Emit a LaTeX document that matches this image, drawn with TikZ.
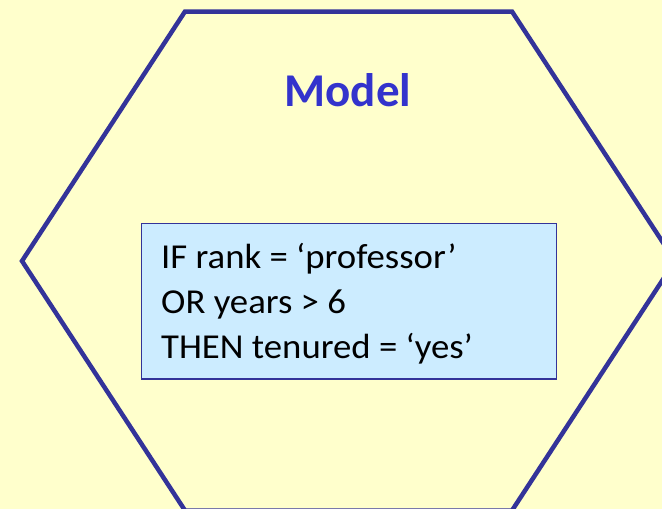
\documentclass[tikz,border=0pt]{standalone}
\usepackage{fontspec}
\setmainfont{Carlito}
\definecolor{bgyellow}{HTML}{FFFFCC}
\definecolor{hexblue}{HTML}{333399}
\definecolor{titleblue}{HTML}{3333CC}
\definecolor{boxblue}{HTML}{CCECFF}
\newcommand{\widetext}[1]{\scalebox{1.05}[1]{#1}}
\begin{document}
\begin{tikzpicture}[x=1pt,y=-1pt,
  hexline/.style={draw=hexblue,line width=4.5pt,line join=miter},
  rulebox/.style={draw=hexblue,line width=1.5pt,fill=boxblue,minimum width=415pt,minimum height=155.5pt,inner sep=0pt},
  ruletext/.style={anchor=base west,inner sep=0pt,font=\fontsize{35}{40}\selectfont,text=black},
  titletext/.style={anchor=base,inner sep=0pt,font=\fontsize{47}{56}\selectfont\bfseries,text=titleblue}]
\fill[bgyellow] (0,0) rectangle (662,509);
\useasboundingbox (0,0) rectangle (662,509);
\coordinate (h1) at (185,11.5);
\coordinate (h2) at (512,11.5);
\coordinate (h3) at (675,261);
\coordinate (h4) at (512,510.5);
\coordinate (h5) at (185,510.5);
\coordinate (h6) at (22,261);
\draw[hexline] (h1) -- (h2) -- (h3) -- (h4) -- (h5) -- (h6) -- cycle;
\node[titletext] (title) at (348,106) {Model};
\node[rulebox] (box) at (349,301.25) {};
\node[ruletext] (l1) at (161,268) {\widetext{IF rank = ‘professor’}};
\node[ruletext] (l2) at (161,313) {\widetext{OR years > 6}};
\node[ruletext] (l3) at (161,358) {\widetext{THEN tenured = ‘yes’}};
\end{tikzpicture}
\end{document}
